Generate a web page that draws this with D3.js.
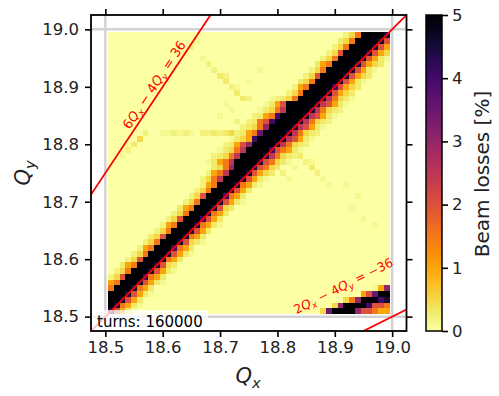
<!DOCTYPE html>
<html>
<head>
<meta charset="utf-8">
<script src="https://cdn.jsdelivr.net/npm/d3@7"></script>
<style>
  body { margin: 0; background: #fff; }
  text { font-family: "DejaVu Sans", sans-serif; }
</style>
</head>
<body>
<svg id="chart" width="499" height="396"></svg>
<script>
// tune grid (cell centres), same for Qx and Qy
const qGrid = [
  18.51, 18.52, 18.53, 18.54, 18.55, 18.56, 18.57, 18.58, 18.59, 18.60,
  18.61, 18.62, 18.63, 18.64, 18.65, 18.66, 18.67, 18.68, 18.69, 18.70,
  18.71, 18.72, 18.73, 18.74, 18.75, 18.76, 18.77, 18.78, 18.79, 18.80,
  18.81, 18.82, 18.83, 18.84, 18.85, 18.86, 18.87, 18.88, 18.89, 18.90,
  18.91, 18.92, 18.93, 18.94, 18.95, 18.96, 18.97, 18.98, 18.99
];
const xTicks = [18.5, 18.6, 18.7, 18.8, 18.9, 19.0];
const yTicks = [18.5, 18.6, 18.7, 18.8, 18.9, 19.0];
const cbTicks = [0, 1, 2, 3, 4, 5];
const guideQ = [18.5, 19.0];

// beam loss [%] per code letter
const lossCode = {
  "0": 0, a: 0.1, b: 0.2, c: 0.3, "1": 0.5, "2": 1, "3": 1.5, "4": 2,
  "5": 2.5, "6": 3, "7": 3.5, "8": 4, "9": 4.5, X: 5
};

// [row (Qy index), first column (Qx index), codes] -- main coupling band
const bandRows = [
  [0, 0, "942ca"],
  [1, 0, "X932ca"],
  [2, 0, "XX942c"],
  [3, 0, "XXX942ca"],
  [4, 0, "3XXX932c"],
  [5, 0, "23XXX942ca"],
  [6, 0, "b14XXX832c"],
  [7, 1, "b13XXX942ca"],
  [8, 2, "c23XXX941c"],
  [9, 3, "b14XXX932c"],
  [10, 4, "b13XXX942ca"],
  [11, 5, "b23XXX832c"],
  [12, 6, "b13XXX941ca"],
  [13, 7, "c14XXX932c"],
  [14, 8, "b13XXX942c"],
  [15, 9, "b23XXX932ca"],
  [16, 10, "b14XXX842c"],
  [17, 11, "b13XXX932c"],
  [18, 12, "c23XXX941c"],
  [19, 13, "b13XXX942ca"],
  [20, 14, "b14XXX832c"],
  [21, 15, "b13XXX942c"],
  [22, 16, "b23XXX932ca"],
  [23, 16, "b135XXX942ca"],
  [24, 17, "b235XXX9421c"],
  [25, 18, "c136XXX9431c"],
  [26, 17, "ac235XXXX9431ca"],
  [27, 18, "bc135XXXX9531cb"],
  [28, 19, "ac135XXXX8432ca"],
  [29, 20, "bc246XXXX9531cb"],
  [30, 21, "ac128XXXX9542ca"],
  [31, 22, "bc237XXXX9531cb"],
  [32, 23, "bc136XXXX9542ca"],
  [33, 24, "bc348XXXX9531cb"],
  [34, 25, "bc238XXXX9542ca"],
  [35, 26, "ac135XXXX9531cb"],
  [36, 27, "ac24XXXXX9542ca"],
  [37, 28, "abc13XXXX9531ca"],
  [38, 31, "b13XXXX9421c"],
  [39, 32, "b23XXXX8421c"],
  [40, 33, "c13XXXX942ca"],
  [41, 34, "b14XXXX9421c"],
  [42, 35, "b13XXXX942ca"],
  [43, 36, "c23XXXX9421c"],
  [44, 37, "b13XXXX942ca"],
  [45, 38, "b14XXXX9421"],
  [46, 39, "b13XXXX942"],
  [47, 40, "c13XXXX94"],
  [48, 41, "b13XXXX9"]
];

// lower right corner losses
const cornerRows = [
  [0, 37, "17XXXX644322"],
  [1, 39, "16XXXX8443"],
  [2, 41, "136XXX89"],
  [3, 44, "247XX"],
  [4, 46, "a26"]
];

// faint isolated cells [Qx index, Qy index, code]
const faintCells = [
  [16, 44, "a"], [17, 43, "b"], [18, 42, "b"], [19, 41, "c"], [20, 40, "c"],
  [21, 39, "b"], [22, 38, "c"], [23, 37, "c"], [20, 41, "b"], [22, 39, "a"],
  [24, 37, "b"], [24, 40, "a"], [26, 42, "a"], [21, 35, "a"], [19, 34, "a"],
  [22, 33, "b"], [20, 36, "a"],
  [33, 27, "c"], [34, 26, "b"], [35, 25, "c"], [36, 24, "b"], [37, 23, "a"],
  [35, 26, "a"], [38, 22, "a"], [30, 24, "b"], [31, 23, "a"], [32, 25, "a"],
  [9, 31, "a"], [10, 31, "a"], [11, 31, "b"], [12, 31, "a"], [13, 31, "b"],
  [14, 31, "a"], [16, 31, "b"], [17, 31, "b"], [18, 31, "c"], [19, 31, "b"],
  [20, 31, "c"], [21, 31, "1"],
  [5, 30, "1"], [4, 29, "c"], [3, 28, "b"], [6, 31, "b"], [2, 27, "a"],
  [14, 46, "b"], [15, 47, "a"], [13, 45, "a"],
  [41, 22, "a"], [42, 18, "a"], [44, 16, "a"], [46, 15, "a"], [43, 20, "a"]
];

// resonance lines a*Qx + b*Qy = c
const resA = [1, 6, 2];
const resB = [-1, -4, -4];
const resC = [0, 36, -36];
const resLabelAt = [null, [18.586, 18.903], [18.915, 18.553]];
const resLabelSize = [0, 13, 12.5];
const resLabelParts = [
  null,
  [["6", ""], ["Q", "it"], ["x", "sub"], ["\u00a0\u2212\u00a04", ""], ["Q", "it"], ["y", "sub"], ["\u00a0=\u00a036", ""]],
  [["2", ""], ["Q", "it"], ["x", "sub"], ["\u00a0\u2212\u00a04", ""], ["Q", "it"], ["y", "sub"], ["\u00a0=\u00a0\u221236", ""]]
];

const svg = d3.select("#chart");
const x = d3.scaleLinear().domain([18.475, 19.025]).range([91, 406.5]);
const y = d3.scaleLinear().domain([18.475, 19.025]).range([331, 15]);
const color = d3.scaleSequential(t => d3.interpolateInferno(1 - t)).domain([0, 5]);
const half = 0.005;

svg.append("rect").attr("width", 499).attr("height", 396).attr("fill", "#fff");

svg.append("defs").append("clipPath").attr("id", "plotClip")
  .append("rect").attr("x", 91).attr("y", 15).attr("width", 315.5).attr("height", 316);

const plot = svg.append("g").attr("clip-path", "url(#plotClip)");

// grey guide lines at the scan limits
guideQ.forEach(q => {
  plot.append("line").attr("x1", x(q)).attr("x2", x(q)).attr("y1", 15).attr("y2", 331)
    .attr("stroke", "#d2d2d2").attr("stroke-width", 2.5);
  plot.append("line").attr("y1", y(q)).attr("y2", y(q)).attr("x1", 91).attr("x2", 406.5)
    .attr("stroke", "#d2d2d2").attr("stroke-width", 2.5);
});

// build the loss grid
const grid = qGrid.map(() => qGrid.map(() => 0));
function paint(j, start, codes) {
  [...codes].forEach((c, k) => {
    const i = start + k;
    if (i >= 0 && i < qGrid.length) grid[j][i] = lossCode[c];
  });
}
bandRows.forEach(([j, s, codes]) => paint(j, s, codes));
cornerRows.forEach(([j, s, codes]) => paint(j, s, codes));
faintCells.forEach(([i, j, c]) => { if (grid[j][i] === 0) grid[j][i] = lossCode[c]; });

const cells = [];
grid.forEach((row, j) => row.forEach((v, i) => cells.push({ qx: qGrid[i], qy: qGrid[j], v })));

plot.selectAll("rect.cell")
  .data(cells)
  .join("rect")
  .attr("class", "cell")
  .attr("x", d => x(d.qx - half))
  .attr("y", d => y(d.qy + half))
  .attr("width", d => x(d.qx + half) - x(d.qx - half) + 0.3)
  .attr("height", d => y(d.qy - half) - y(d.qy + half) + 0.3)
  .attr("fill", d => color(d.v))
  .attr("shape-rendering", "crispEdges");

// resonance lines
const xDom = x.domain();
resA.forEach((a, k) => {
  const qy = qx => (resC[k] - a * qx) / resB[k];
  plot.append("line")
    .attr("x1", x(xDom[0])).attr("y1", y(qy(xDom[0])))
    .attr("x2", x(xDom[1])).attr("y2", y(qy(xDom[1])))
    .attr("stroke", "#ff0000").attr("stroke-width", 1.8);
});

function mathText(sel, parts, size) {
  let shifted = false;
  parts.forEach(([t, kind]) => {
    const ts = sel.append("tspan").text(t);
    if (kind === "sub") {
      ts.attr("font-size", size * 0.7).attr("font-style", "italic")
        .attr("dy", shifted ? 0 : size * 0.22);
      shifted = true;
    } else {
      ts.attr("font-size", size).attr("dy", shifted ? -size * 0.22 : 0);
      if (kind === "it") ts.attr("font-style", "italic");
      shifted = false;
    }
  });
}

// resonance labels
resA.forEach((a, k) => {
  if (!resLabelAt[k]) return;
  const qy = qx => (resC[k] - a * qx) / resB[k];
  const ang = Math.atan2(y(qy(19.0)) - y(qy(18.5)), x(19.0) - x(18.5)) * 180 / Math.PI;
  const [lx, ly] = resLabelAt[k];
  const t = svg.append("text")
    .attr("transform", `translate(${x(lx)},${y(ly)}) rotate(${ang})`)
    .attr("y", 4)
    .attr("text-anchor", "middle")
    .attr("fill", "#ff0000");
  mathText(t, resLabelParts[k], resLabelSize[k]);
});

// turns box
plot.append("rect").attr("x", 92).attr("y", 310).attr("width", 116).attr("height", 24)
  .attr("fill", "#fff").attr("opacity", 0.75);
svg.append("text").attr("x", 97).attr("y", 327).attr("font-size", 15).attr("fill", "#000")
  .text("turns: 160000");

// spines
svg.append("rect").attr("x", 91).attr("y", 15).attr("width", 315.5).attr("height", 316)
  .attr("fill", "none").attr("stroke", "#000").attr("stroke-width", 1.8);

function styleAxis(g) {
  g.select(".domain").remove();
  g.selectAll(".tick line").attr("stroke", "#000").attr("stroke-width", 1.6);
  g.selectAll(".tick text").attr("font-size", 16.5).attr("fill", "#222")
    .attr("font-family", "DejaVu Sans");
}

svg.append("g").attr("transform", "translate(0,331)")
  .call(d3.axisBottom(x).tickValues(xTicks).tickSize(6).tickPadding(4).tickFormat(d3.format(".1f")))
  .call(styleAxis);
svg.append("g").attr("transform", "translate(0,15)")
  .call(d3.axisTop(x).tickValues(xTicks).tickSize(6).tickFormat(""))
  .call(styleAxis);
svg.append("g").attr("transform", "translate(91,0)")
  .call(d3.axisLeft(y).tickValues(yTicks).tickSize(6).tickPadding(6).tickFormat(d3.format(".1f")))
  .call(styleAxis);
svg.append("g").attr("transform", "translate(406.5,0)")
  .call(d3.axisRight(y).tickValues(yTicks).tickSize(6).tickFormat(""))
  .call(styleAxis);

// axis labels
const xl = svg.append("text").attr("x", 248).attr("y", 383).attr("text-anchor", "middle").attr("fill", "#222");
mathText(xl, [["Q", "it"], ["x", "sub"]], 21);
const yl = svg.append("text").attr("transform", "translate(30,173) rotate(-90)")
  .attr("text-anchor", "middle").attr("fill", "#222");
mathText(yl, [["Q", "it"], ["y", "sub"]], 21);

// colorbar
const cb = d3.scaleLinear().domain([0, 5]).range([331, 15]);
const grad = svg.select("defs").append("linearGradient").attr("id", "cbGrad")
  .attr("x1", 0).attr("y1", 1).attr("x2", 0).attr("y2", 0);
d3.range(0, 1.0001, 0.05).forEach(t => {
  grad.append("stop").attr("offset", t).attr("stop-color", color(t * 5));
});
svg.append("rect").attr("x", 426).attr("y", 15).attr("width", 16).attr("height", 316)
  .attr("fill", "url(#cbGrad)").attr("stroke", "#000").attr("stroke-width", 1.5);
svg.append("g").attr("transform", "translate(442,0)")
  .call(d3.axisRight(cb).tickValues(cbTicks).tickSize(6).tickPadding(4).tickFormat(d3.format("d")))
  .call(styleAxis);
svg.append("text").attr("transform", "translate(489,174) rotate(-90)")
  .attr("text-anchor", "middle").attr("font-size", 20).attr("fill", "#222")
  .text("Beam losses [%]");
</script>
</body>
</html>
